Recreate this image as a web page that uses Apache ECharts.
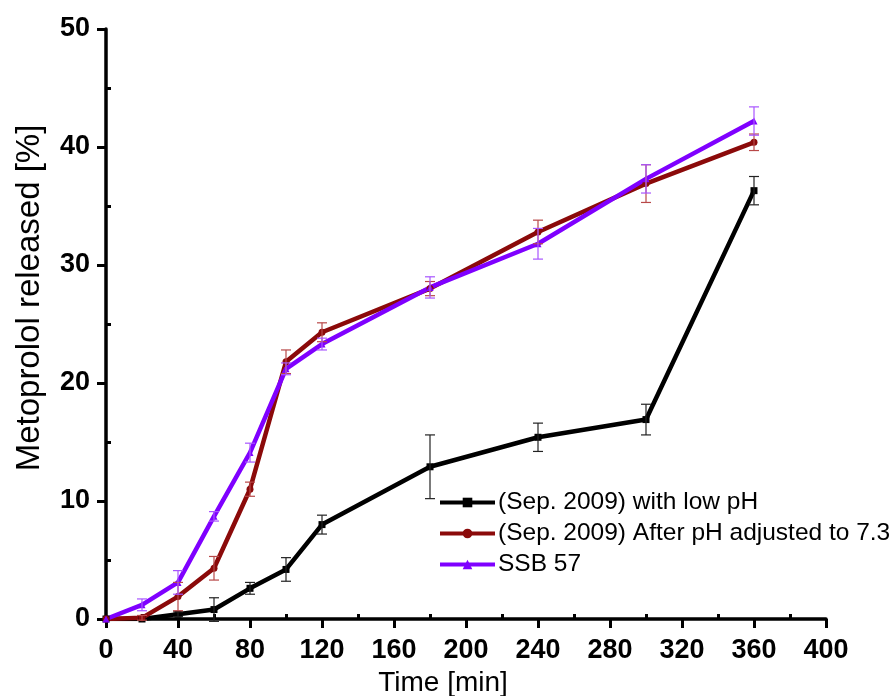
<!DOCTYPE html>
<html>
<head>
<meta charset="utf-8">
<script src="https://cdn.jsdelivr.net/npm/echarts@6/dist/echarts.min.js"></script>
<style>html,body{margin:0;padding:0;background:#fff;}#c{width:893px;height:696px;}</style>
</head>
<body>
<div id="c"></div>
<script>
var times = [0, 20, 40, 60, 80, 100, 120, 180, 240, 300, 360];
var lowPH = [0, 0, 0.4, 0.8, 2.6, 4.2, 8.0, 12.9, 15.4, 16.9, 36.3];
var lowPHErr = [0, 0, 0.2, 1.0, 0.5, 1.0, 0.8, 2.7, 1.2, 1.3, 1.2];
var adjPH = [0, 0.1, 1.9, 4.3, 11.0, 21.8, 24.3, 28.0, 32.8, 36.9, 40.4];
var adjPHErr = [0, 0.2, 1.2, 1.0, 0.6, 1.0, 0.8, 0.6, 1.0, 1.6, 0.7];
var ssb = [0, 1.2, 3.1, 8.7, 14.1, 21.2, 23.3, 28.1, 31.8, 37.3, 42.2];
var ssbErr = [0, 0.5, 1.0, 0.4, 0.8, 0.5, 0.5, 0.9, 1.3, 1.2, 1.2];
var names = ['(Sep. 2009) with low pH', '(Sep. 2009) After pH adjusted to 7.3', 'SSB 57'];
var colors = ['#000000', '#8b0a0a', '#7f00ff'];
var errColors = ['#222222', '#b84848', '#a855ff'];

function pairs(vals) { return times.map(function (t, i) { return [t, vals[i]]; }); }
function errData(vals, errs) { return times.map(function (t, i) { return [t, vals[i] - errs[i], vals[i] + errs[i]]; }); }

function errSeries(vals, errs, color) {
  return {
    type: 'custom',
    silent: true,
    z: 3,
    data: errData(vals, errs),
    renderItem: function (params, api) {
      var x = api.value(0);
      var lo = api.coord([x, api.value(1)]);
      var hi = api.coord([x, api.value(2)]);
      if (Math.abs(hi[1] - lo[1]) < 1) return null;
      var w = 5;
      var st = { stroke: color, lineWidth: 1.2 };
      return {
        type: 'group',
        children: [
          { type: 'line', shape: { x1: lo[0], y1: lo[1], x2: hi[0], y2: hi[1] }, style: st },
          { type: 'line', shape: { x1: lo[0] - w, y1: lo[1], x2: lo[0] + w, y2: lo[1] }, style: st },
          { type: 'line', shape: { x1: hi[0] - w, y1: hi[1], x2: hi[0] + w, y2: hi[1] }, style: st }
        ]
      };
    }
  };
}

function lineSeries(name, vals, color, symbol) {
  return {
    name: name,
    type: 'line',
    data: pairs(vals),
    symbol: symbol,
    symbolSize: 7,
    showSymbol: true,
    lineStyle: { color: color, width: 4.5 },
    itemStyle: { color: color },
    z: 2
  };
}

var font = 'Liberation Sans, Arial, sans-serif';
var chart = echarts.init(document.getElementById('c'), null, { renderer: 'canvas' });
chart.setOption({
  animation: false,
  backgroundColor: '#ffffff',
  grid: { left: 106, right: 67, top: 29, bottom: 77, containLabel: false, outerBoundsMode: 'none' },
  legend: {
    orient: 'vertical',
    left: 438,
    top: 490,
    padding: 0,
    itemWidth: 55,
    itemHeight: 12,
    itemGap: 6,
    data: names,
    lineStyle: { width: 4 },
    textStyle: { fontFamily: font, fontSize: 24.5, color: '#000', padding: [0, 0, 0, -2] }
  },
  xAxis: {
    type: 'value',
    min: 0,
    max: 400,
    interval: 40,
    name: 'Time [min]',
    nameLocation: 'middle',
    nameGap: 49,
    nameTextStyle: { fontFamily: font, fontSize: 28, color: '#000', padding: [0, 46, 0, 0] },
    axisLine: { show: true, onZero: false, lineStyle: { color: '#000', width: 3.5 } },
    axisTick: { show: true, length: 9, lineStyle: { color: '#000', width: 3 } },
    minorTick: { show: true, splitNumber: 2, length: -5, lineStyle: { color: '#000', width: 3 } },
    splitLine: { show: false },
    axisLabel: { margin: 18, fontFamily: font, fontWeight: 'bold', fontSize: 27, color: '#000' }
  },
  yAxis: {
    type: 'value',
    min: 0,
    max: 50,
    interval: 10,
    name: 'Metoprolol released [%]',
    nameLocation: 'middle',
    nameGap: 60,
    nameTextStyle: { fontFamily: font, fontSize: 33, color: '#000', padding: [0, 0, 0, 52] },
    axisLine: { show: true, onZero: false, lineStyle: { color: '#000', width: 3.5 } },
    axisTick: { show: true, length: 9, lineStyle: { color: '#000', width: 3 } },
    minorTick: { show: true, splitNumber: 2, length: -5, lineStyle: { color: '#000', width: 3 } },
    splitLine: { show: false },
    axisLabel: { margin: 16, fontFamily: font, fontWeight: 'bold', fontSize: 27, color: '#000' }
  },
  series: [
    lineSeries(names[0], lowPH, colors[0], 'rect'),
    lineSeries(names[1], adjPH, colors[1], 'circle'),
    lineSeries(names[2], ssb, colors[2], 'triangle'),
    errSeries(lowPH, lowPHErr, errColors[0]),
    errSeries(adjPH, adjPHErr, errColors[1]),
    errSeries(ssb, ssbErr, errColors[2])
  ]
});
</script>
</body>
</html>
